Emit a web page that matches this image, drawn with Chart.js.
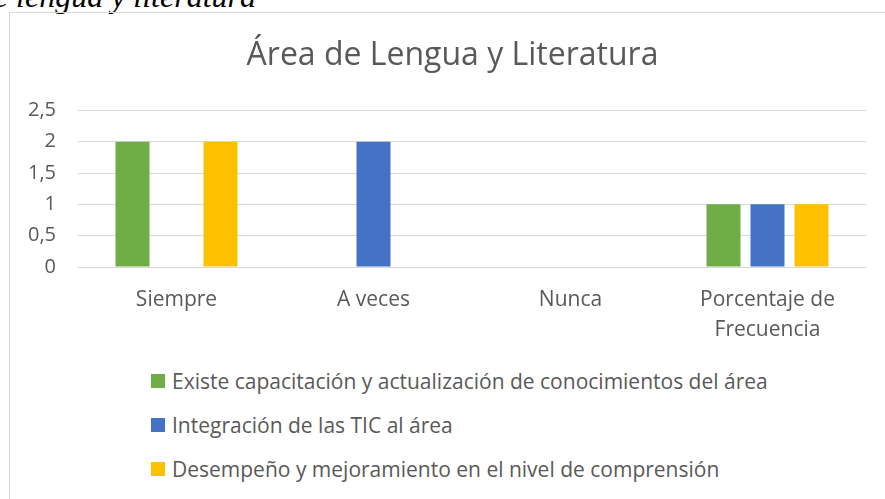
<!DOCTYPE html>
<html>
<head>
<meta charset="utf-8">
<script src="https://cdn.jsdelivr.net/npm/chart.js@4/dist/chart.umd.min.js"></script>
<style>
  body { margin: 0; width: 885px; height: 499px; overflow: hidden; background: #fff; position: relative; font-family: "Open Sans", sans-serif; }
  #cap { position: absolute; right: 629px; top: -20px; font: italic 32px/32px "Liberation Serif", serif; color: #000; white-space: nowrap; }
  #box { position: absolute; left: 9px; top: 12px; width: 920px; height: 520px; border: 1px solid #d9d9d9; }
  #wrap { position: absolute; left: 10px; top: 13px; width: 875px; height: 345px; }
  #legend { position: absolute; left: 151px; top: 367px; color: #595959; font-size: 21px; line-height: 28px; }
  .item { height: 44px; display: flex; align-items: flex-start; }
  .sw { width: 14px; height: 14px; margin: 7px 7px 0 0; }
</style>
</head>
<body>
<div id="cap">Área de lengua y literatura</div>
<div id="box"></div>
<div id="wrap"><canvas id="myChart"></canvas></div>
<div id="legend"></div>
<script>
const labels = ['Siempre', 'A veces', 'Nunca', ['Porcentaje de', 'Frecuencia']];
const serie1 = [2, 0, 0, 1];
const serie2 = [0, 2, 0, 1];
const serie3 = [2, 0, 0, 1];
const nombres = [
  'Existe capacitación y actualización de conocimientos del área',
  'Integración de las TIC al área',
  'Desempeño y mejoramiento en el nivel de comprensión'
];
const colores = ['#70AD47', '#4472C4', '#FFC000'];

const data = {
  labels: labels,
  datasets: [serie1, serie2, serie3].map((d, i) => ({
    label: nombres[i],
    data: d,
    backgroundColor: colores[i],
    borderWidth: 0,
    categoryPercentage: 0.67,
    barPercentage: 0.773
  }))
};

// the title in the original is centred on a wider box than the plot
const moverTitulo = {
  id: 'moverTitulo',
  afterLayout(chart) {
    if (chart.titleBlock) chart.titleBlock.left += 19;
  }
};

const config = {
  type: 'bar',
  data: data,
  plugins: [moverTitulo],
  options: {
    responsive: true,
    maintainAspectRatio: false,
    animation: false,
    layout: { padding: { left: 10, right: 19, top: 0, bottom: 0 } },
    plugins: {
      legend: { display: false },
      tooltip: { enabled: false },
      title: {
        display: true,
        text: 'Área de Lengua y Literatura',
        color: '#595959',
        font: { family: 'Open Sans', size: 32, weight: 'normal' },
        padding: { top: 24, bottom: 35 }
      }
    },
    scales: {
      x: {
        grid: { display: false },
        border: { display: false },
        ticks: {
          color: '#595959',
          font: { family: 'Open Sans', size: 21, lineHeight: 1.43 },
          padding: 10,
          maxRotation: 0
        },
        afterFit: s => { s.height = 91; }
      },
      y: {
        min: 0,
        max: 2.5,
        border: { display: false },
        grid: { color: '#d9d9d9', drawTicks: false },
        ticks: {
          stepSize: 0.5,
          color: '#595959',
          font: { family: 'Open Sans', size: 20 },
          padding: 22,
          callback: v => String(v).replace('.', ',')
        },
        afterFit: s => { s.width = 58; }
      }
    }
  }
};

const myChart = new Chart(document.getElementById('myChart'), config);

const leg = document.getElementById('legend');
nombres.forEach((n, i) => {
  const it = document.createElement('div');
  it.className = 'item';
  it.innerHTML = `<span class="sw" style="background:${colores[i]}"></span><span>${n}</span>`;
  leg.appendChild(it);
});
</script>
</body>
</html>
